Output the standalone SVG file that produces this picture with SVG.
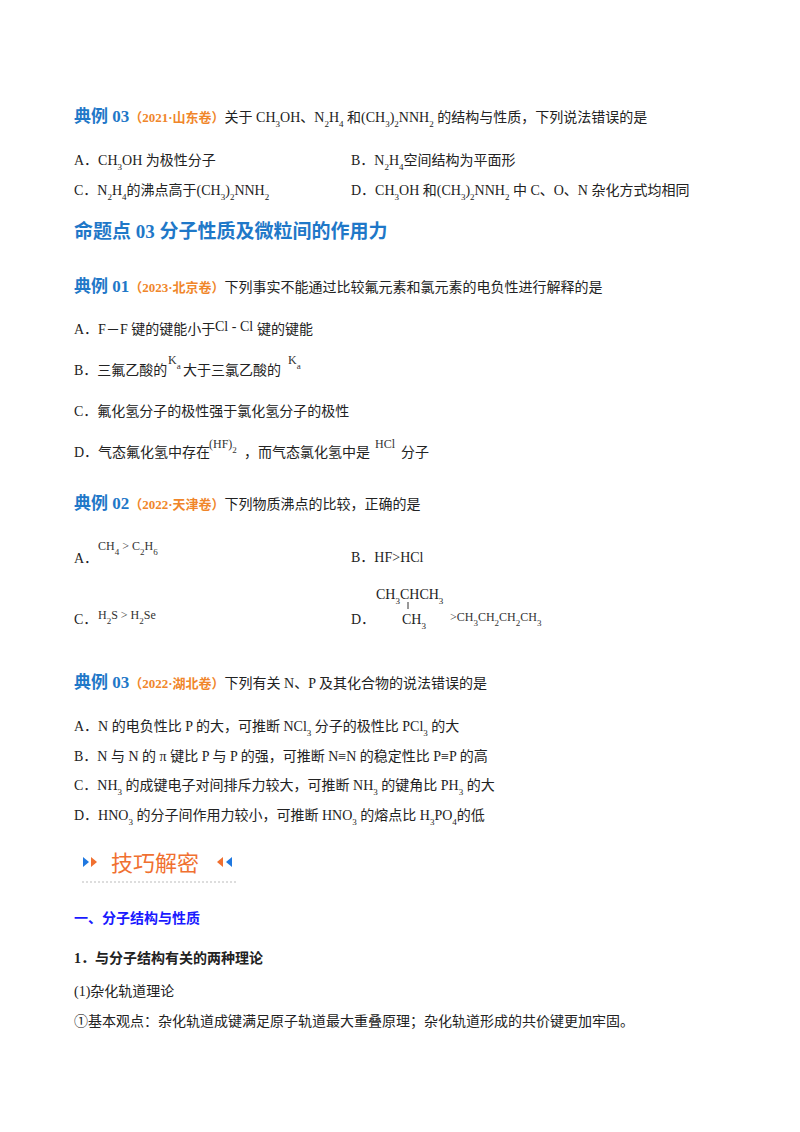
<svg xmlns="http://www.w3.org/2000/svg" width="800" height="1132" viewBox="0 0 800 1132">
<style>
text{font-family:"Liberation Serif","Noto Sans CJK SC",serif;font-size:14px;fill:#222}
.h{font-size:17px;font-weight:bold;fill:#1f78c8}
.src{font-size:13px;font-weight:bold;fill:#f0862a}
.s{font-size:9px;baseline-shift:sub}
.f{font-size:12px;fill:#333}
.b{font-weight:bold}
</style>
<rect width="800" height="1132" fill="#fff"/>
<g id="q1">
<text x="74" y="122"><tspan class="h">典例 03</tspan><tspan class="src">（2021·山东卷）</tspan>关于 CH<tspan class="s">3</tspan>OH、N<tspan class="s">2</tspan>H<tspan class="s">4</tspan> 和(CH<tspan class="s">3</tspan>)<tspan class="s">2</tspan>NNH<tspan class="s">2</tspan> 的结构与性质，下列说法错误的是</text>
<text x="74" y="165">A．CH<tspan class="s">3</tspan>OH 为极性分子</text>
<text x="351" y="165">B．N<tspan class="s">2</tspan>H<tspan class="s">4</tspan>空间结构为平面形</text>
<text x="74" y="195">C．N<tspan class="s">2</tspan>H<tspan class="s">4</tspan>的沸点高于(CH<tspan class="s">3</tspan>)<tspan class="s">2</tspan>NNH<tspan class="s">2</tspan></text>
<text x="351" y="195">D．CH<tspan class="s">3</tspan>OH 和(CH<tspan class="s">3</tspan>)<tspan class="s">2</tspan>NNH<tspan class="s">2</tspan> 中 C、O、N 杂化方式均相同</text>
</g>
<g id="heading">
<text x="74" y="238" style="font-size:19px;font-weight:bold;fill:#1f78c8">命题点 03  分子性质及微粒间的作用力</text>
</g>
<g id="q2">
<text x="74" y="292"><tspan class="h">典例 01</tspan><tspan class="src">（2023·北京卷）</tspan>下列事实不能通过比较氟元素和氯元素的电负性进行解释的是</text>
<text x="74" y="334">A．F－F 键的键能小于</text><text x="215" y="331" style="font-size:14px">Cl - Cl</text><text x="257" y="334">键的键能</text>
<text x="74" y="375">B．三氟乙酸的</text><text x="168" y="364" class="f">K<tspan class="s">a</tspan></text><text x="183" y="375">大于三氯乙酸的</text><text x="288" y="364" class="f">K<tspan class="s">a</tspan></text>
<text x="74" y="416">C．氟化氢分子的极性强于氯化氢分子的极性</text>
<text x="74" y="457">D．气态氟化氢中存在</text><text x="209" y="448" class="f">(HF)<tspan class="s">2</tspan></text><text x="244" y="457">，而气态氯化氢中是</text><text x="375" y="448" class="f">HCl</text><text x="401" y="457">分子</text>
</g>
<g id="q3">
<text x="74" y="509"><tspan class="h">典例 02</tspan><tspan class="src">（2022·天津卷）</tspan>下列物质沸点的比较，正确的是</text>
<text x="74" y="563">A．</text><text x="98" y="550" class="f">CH<tspan class="s">4</tspan> &gt; C<tspan class="s">2</tspan>H<tspan class="s">6</tspan></text>
<text x="351" y="562">B．HF&gt;HCl</text>
<text x="74" y="624">C．</text><text x="98" y="619" class="f">H<tspan class="s">2</tspan>S &gt; H<tspan class="s">2</tspan>Se</text>
<text x="351" y="624">D．</text>
<text x="376" y="599">CH<tspan class="s">3</tspan>CHCH<tspan class="s">3</tspan></text>
<line x1="408" y1="602" x2="408" y2="609" stroke="#333" stroke-width="1"/>
<text x="402" y="624">CH<tspan class="s">3</tspan></text>
<text x="450" y="621" class="f">&gt;CH<tspan class="s">3</tspan>CH<tspan class="s">2</tspan>CH<tspan class="s">2</tspan>CH<tspan class="s">3</tspan></text>
</g>
<g id="q4">
<text x="74" y="688"><tspan class="h">典例 03</tspan><tspan class="src">（2022·湖北卷）</tspan>下列有关 N、P 及其化合物的说法错误的是</text>
<text x="74" y="731">A．N 的电负性比 P 的大，可推断 NCl<tspan class="s">3</tspan> 分子的极性比 PCl<tspan class="s">3</tspan> 的大</text>
<text x="74" y="761">B．N 与 N 的 π 键比 P 与 P 的强，可推断 N≡N 的稳定性比 P≡P 的高</text>
<text x="74" y="790">C．NH<tspan class="s">3</tspan> 的成键电子对间排斥力较大，可推断 NH<tspan class="s">3</tspan> 的键角比 PH<tspan class="s">3</tspan> 的大</text>
<text x="74" y="820">D．HNO<tspan class="s">3</tspan> 的分子间作用力较小，可推断 HNO<tspan class="s">3</tspan> 的熔点比 H<tspan class="s">3</tspan>PO<tspan class="s">4</tspan>的低</text>
</g>
<g id="banner">
<polygon points="83,857 83,867 89,862" fill="#1f78e0"/>
<polygon points="91,857 91,867 97,862" fill="#f07030"/>
<text x="111" y="871" style="font-family:'Noto Sans CJK SC',sans-serif;font-size:22px;fill:#f07030">技巧解密</text>
<polygon points="223,857 223,867 217,862" fill="#f07030"/>
<polygon points="232,857 232,867 226,862" fill="#1f78e0"/>
<line x1="82" y1="882" x2="236" y2="882" stroke="#bbb" stroke-width="1" stroke-dasharray="2,2"/>
</g>
<g id="body">
<text x="74" y="923" style="font-weight:bold;fill:#1a1aff">一、分子结构与性质</text>
<text x="74" y="963" class="b">1．与分子结构有关的两种理论</text>
<text x="74" y="996">(1)杂化轨道理论</text>
<text x="74" y="1026">①基本观点：杂化轨道成键满足原子轨道最大重叠原理；杂化轨道形成的共价键更加牢固。</text>
</g>
</svg>
